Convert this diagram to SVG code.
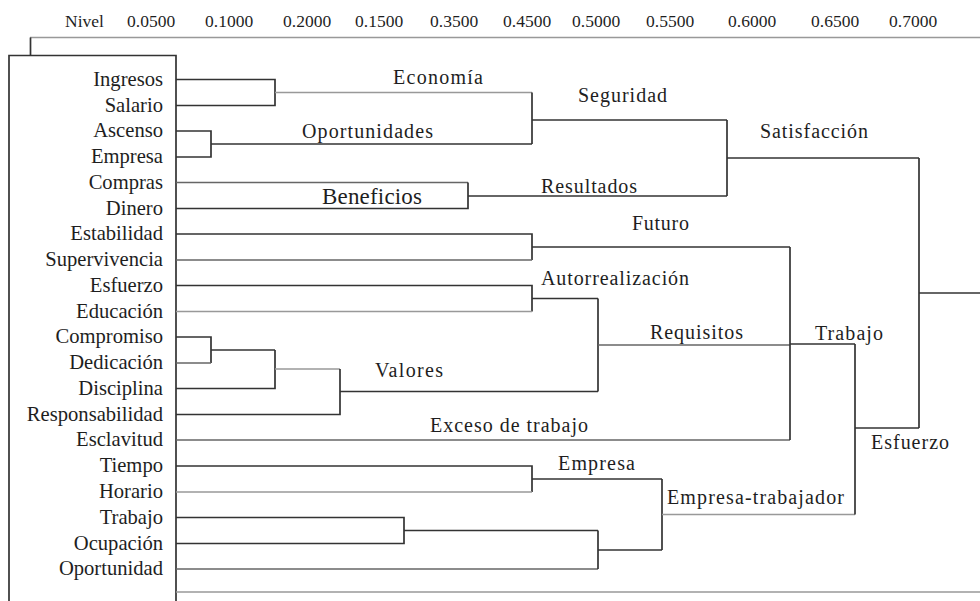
<svg xmlns="http://www.w3.org/2000/svg" width="980" height="601" viewBox="0 0 980 601">
<style>
text{font-family:"Liberation Serif","Times New Roman",serif;fill:#1e1e1e}
.hd{font-size:17.5px}
.lf{font-size:20.6px;text-anchor:end}
.cl{font-size:20px}
.ln{fill:none;stroke:#333;stroke-width:1.7}
.md{fill:none;stroke:#666;stroke-width:1.7}
.lt{fill:none;stroke:#999;stroke-width:1.7}
</style>
<rect width="980" height="601" fill="#fff"/>
<g id="header">
<text class="hd" x="65" y="27">Nivel</text>
<text class="hd" x="127" y="27">0.0500</text>
<text class="hd" x="205" y="27">0.1000</text>
<text class="hd" x="283" y="27">0.2000</text>
<text class="hd" x="355" y="27">0.1500</text>
<text class="hd" x="430" y="27">0.3500</text>
<text class="hd" x="503" y="27">0.4500</text>
<text class="hd" x="572" y="27">0.5000</text>
<text class="hd" x="646" y="27">0.5500</text>
<text class="hd" x="728" y="27">0.6000</text>
<text class="hd" x="811" y="27">0.6500</text>
<text class="hd" x="889" y="27">0.7000</text>
</g>
<g id="frame">
<path class="lt" d="M30,37.5 H980"/>
<path class="ln" d="M30.5,37.5 V55.5"/>
<path class="ln" d="M9,601 V55.5 H176 V601"/>
<path class="lt" d="M176,592 H980"/>
</g>
<g id="leaves">
<text class="lf" x="163" y="85.5">Ingresos</text>
<text class="lf" x="163" y="111.5">Salario</text>
<text class="lf" x="163" y="137">Ascenso</text>
<text class="lf" x="163" y="163">Empresa</text>
<text class="lf" x="163" y="188.5">Compras</text>
<text class="lf" x="163" y="214.5">Dinero</text>
<text class="lf" x="163" y="240">Estabilidad</text>
<text class="lf" x="163" y="266">Supervivencia</text>
<text class="lf" x="163" y="291.5">Esfuerzo</text>
<text class="lf" x="163" y="317.5">Educación</text>
<text class="lf" x="163" y="343">Compromiso</text>
<text class="lf" x="163" y="369">Dedicación</text>
<text class="lf" x="163" y="394.5">Disciplina</text>
<text class="lf" x="163" y="420.5">Responsabilidad</text>
<text class="lf" x="163" y="446">Esclavitud</text>
<text class="lf" x="163" y="472">Tiempo</text>
<text class="lf" x="163" y="498">Horario</text>
<text class="lf" x="163" y="523.5">Trabajo</text>
<text class="lf" x="163" y="549.5">Ocupación</text>
<text class="lf" x="163" y="575">Oportunidad</text>
</g>
<g id="connectors">
<path class="ln" d="M176,79.5 H275 V105.5 H176"/>
<path class="lt" d="M275,92.5 H532"/>
<path class="ln" d="M176,131 H211 V157 H176"/>
<path class="ln" d="M211,144 H532"/>
<path class="ln" d="M532,92.5 V144"/>
<path class="ln" d="M532,120 H727"/>
<path class="md" d="M176,182.5 H468"/>
<path class="ln" d="M468,182.5 V208.5 H176"/>
<path class="ln" d="M468,196 H727"/>
<path class="ln" d="M727,120 V196"/>
<path class="ln" d="M727,158 H919"/>
<path class="ln" d="M176,234 H532 V260"/>
<path class="md" d="M532,260 H176"/>
<path class="ln" d="M532,247 H790"/>
<path class="ln" d="M176,285.5 H532 V311.5"/>
<path class="lt" d="M532,311.5 H176"/>
<path class="ln" d="M532,298.5 H598"/>
<path class="ln" d="M176,337 H211 V363"/>
<path class="md" d="M211,363 H176"/>
<path class="ln" d="M211,350 H275"/>
<path class="ln" d="M176,388.5 H275 V350"/>
<path class="lt" d="M275,369 H340"/>
<path class="ln" d="M176,414.5 H340 V369"/>
<path class="ln" d="M340,391.5 H598"/>
<path class="ln" d="M598,298.5 V391.5"/>
<path class="md" d="M598,345 H790"/>
<path class="md" d="M176,440 H790"/>
<path class="ln" d="M790,247 V440"/>
<path class="ln" d="M790,344 H855"/>
<path class="ln" d="M176,466 H532 V492"/>
<path class="lt" d="M532,492 H176"/>
<path class="ln" d="M532,479 H662"/>
<path class="ln" d="M176,517.5 H404 V543.5 H176"/>
<path class="ln" d="M404,530.5 H598"/>
<path class="md" d="M176,569 H598"/>
<path class="ln" d="M598,530.5 V569"/>
<path class="ln" d="M598,550 H662"/>
<path class="ln" d="M662,479 V550"/>
<path class="lt" d="M662,514.5 H855"/>
<path class="ln" d="M855,344 V514.5"/>
<path class="ln" d="M855,428 H919"/>
<path class="ln" d="M919,158 V428"/>
<path class="ln" d="M919,293 H980"/>
</g>
<g id="cluster-labels">
<text class="cl" x="393" y="84" textLength="90" lengthAdjust="spacing">Economía</text>
<text class="cl" x="578" y="102" textLength="89" lengthAdjust="spacing">Seguridad</text>
<text class="cl" x="302" y="138" textLength="131" lengthAdjust="spacing">Oportunidades</text>
<text x="322" y="204" font-size="23" textLength="100" lengthAdjust="spacing">Beneficios</text>
<text class="cl" x="541" y="193" textLength="96" lengthAdjust="spacing">Resultados</text>
<text class="cl" x="760" y="138" textLength="108" lengthAdjust="spacing">Satisfacción</text>
<text class="cl" x="632" y="230" textLength="57" lengthAdjust="spacing">Futuro</text>
<text class="cl" x="541" y="285" textLength="148" lengthAdjust="spacing">Autorrealización</text>
<text class="cl" x="650" y="339" textLength="93" lengthAdjust="spacing">Requisitos</text>
<text class="cl" x="375" y="377" textLength="68" lengthAdjust="spacing">Valores</text>
<text class="cl" x="430" y="432" textLength="158" lengthAdjust="spacing">Exceso de trabajo</text>
<text class="cl" x="815" y="340" textLength="68" lengthAdjust="spacing">Trabajo</text>
<text class="cl" x="871" y="449" textLength="78" lengthAdjust="spacing">Esfuerzo</text>
<text class="cl" x="558" y="470" textLength="77" lengthAdjust="spacing">Empresa</text>
<text class="cl" x="667" y="504" textLength="177" lengthAdjust="spacing">Empresa-trabajador</text>
</g>
</svg>
